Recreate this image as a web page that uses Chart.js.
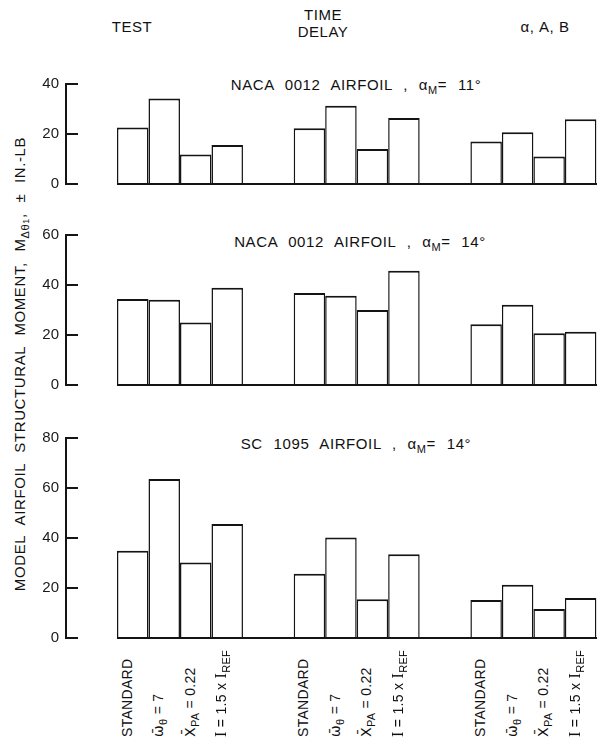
<!DOCTYPE html>
<html>
<head>
<meta charset="utf-8">
<script src="https://cdn.jsdelivr.net/npm/chart.js@4.4.1/dist/chart.umd.min.js"></script>
<style>
  html, body { margin: 0; padding: 0; background: #fff; overflow: hidden; }
  body { width: 597px; height: 741px; position: relative; font-family: "Liberation Sans", Arial, sans-serif; color: #111; }
  .abs { position: absolute; white-space: nowrap; }
  canvas { position: absolute; left: 0; }
  .hdr { font-size: 15px; letter-spacing: 0.5px; transform: translate(-50%, -50%); text-align: center; line-height: 17px; }
  .ttl { font-size: 15px; letter-spacing: 0.6px; word-spacing: 6px; transform: translate(-50%, -50%); }
  .sub { font-size: 11px; position: relative; top: 4px; }
  .ytitle { font-size: 15px; letter-spacing: 0.6px; word-spacing: 6px; transform: translate(-50%, -50%) rotate(-90deg); line-height: 18px; }
  .xlab { font-size: 14px; line-height: 16px; transform-origin: 0 0; transform: rotate(-90deg); letter-spacing: 0.3px; }
  .serifI { font-family: "Liberation Serif", "DejaVu Serif", serif; font-size: 16px; }
  .ov { font-family: "DejaVu Sans", sans-serif; }
</style>
</head>
<body>
<div class="abs hdr" style="left:132px; top:26px;">TEST</div>
<div class="abs hdr" style="left:323px; top:23px;">TIME<br>DELAY</div>
<div class="abs hdr" style="left:545px; top:26px;">α, A, B</div>

<div class="abs ttl" style="left:356px; top:84px;">NACA 0012 AIRFOIL , α<span class="sub">M</span>= 11°</div>
<div class="abs ttl" style="left:360px; top:241px;">NACA 0012 AIRFOIL , α<span class="sub">M</span>= 14°</div>
<div class="abs ttl" style="left:356px; top:443px;">SC 1095 AIRFOIL , α<span class="sub">M</span>= 14°</div>

<div class="abs ytitle" style="left:21px; top:364px;">MODEL AIRFOIL STRUCTURAL MOMENT, M<span class="sub">Δθ<span style="font-size:9px">1</span></span>, ± IN.-LB</div>

<canvas id="c1" width="597" height="124" style="top:72px"></canvas>
<canvas id="c2" width="597" height="174" style="top:223px"></canvas>
<canvas id="c3" width="597" height="224" style="top:426px"></canvas>

<script>
// Groups (x categories) and conditions (bars within a group)
const groupNames = ['TEST', 'TIME DELAY', 'α, A, B'];
const conditionLabels = [
  'STANDARD',
  '<span class="ov">ω\u0304</span><span class="sub">θ</span> = 7',
  '<span class="ov">X\u0304</span><span class="sub">PA</span> = 0.22',
  '<span class="serifI">I</span> = 1.5 x <span class="serifI">I</span><span class="sub">REF</span>'
];

// Panel 1: NACA 0012 airfoil, alpha_M = 11 deg  (values per group: TEST, TIME DELAY, α,A,B)
const naca11Standard = [22.6, 22.3, 17.0];
const naca11Omega    = [34.2, 31.3, 20.7];
const naca11Xpa      = [11.8, 14.0, 11.0];
const naca11Inertia  = [15.6, 26.4, 25.9];

// Panel 2: NACA 0012 airfoil, alpha_M = 14 deg
const naca14Standard = [34.4, 36.8, 24.3];
const naca14Omega    = [34.1, 35.7, 32.1];
const naca14Xpa      = [25.0, 30.0, 20.7];
const naca14Inertia  = [38.9, 45.7, 21.3];

// Panel 3: SC 1095 airfoil, alpha_M = 14 deg
const sc14Standard = [34.9, 25.7, 15.2];
const sc14Omega    = [63.6, 40.2, 21.3];
const sc14Xpa      = [30.2, 15.5, 11.6];
const sc14Inertia  = [45.6, 33.5, 16.0];

// Y tick labels per panel
const panel1Ticks = [0, 20, 40];
const panel2Ticks = [0, 20, 40, 60];
const panel3Ticks = [0, 20, 40, 60, 80];

const INK = '#141414';

const baselinePlugin = {
  id: 'baseline',
  afterDatasetsDraw(chart) {
    const ctx = chart.ctx;
    const y = chart.scales.y.getPixelForValue(0);
    const first = chart.getDatasetMeta(0).data[0].getProps(['x', 'width'], true);
    const left = first.x - first.width / 2;
    ctx.save();
    ctx.strokeStyle = INK;
    ctx.lineWidth = 2;
    ctx.beginPath();
    ctx.moveTo(left, y);
    ctx.lineTo(chart.chartArea.right, y);
    ctx.stroke();
    ctx.restore();
  }
};

function makeChart(id, series, ticks) {
  const datasets = series.map((vals) => ({
    data: vals.map((v, i) => ({ x: i, y: v })),
    backgroundColor: '#ffffff',
    borderColor: INK,
    borderWidth: { top: 2, left: 1.5, right: 1.5, bottom: 0 },
    borderSkipped: 'start',
    barPercentage: 1.0,
    categoryPercentage: 0.713,
    clip: false
  }));
  return new Chart(document.getElementById(id), {
    type: 'bar',
    data: { datasets },
    options: {
      responsive: false,
      animation: false,
      events: [],
      layout: { padding: { top: 12, bottom: 12, left: 0, right: 0 } },
      plugins: { legend: { display: false }, tooltip: { enabled: false }, title: { display: false } },
      scales: {
        x: {
          type: 'linear',
          display: false,
          offset: false,
          min: -0.645,
          max: 2.36,
          ticks: { stepSize: 1, includeBounds: false }
        },
        y: {
          min: ticks[0],
          max: ticks[ticks.length - 1],
          afterBuildTicks: (scale) => { scale.ticks = ticks.map(v => ({ value: v })); },
          afterFit: (scale) => { scale.width = 66; scale.paddingTop = 10; scale.paddingBottom = 10; },
          border: { display: true, color: INK, width: 2 },
          grid: { display: true, drawOnChartArea: false, drawTicks: true, tickLength: -12, color: INK, lineWidth: 2 },
          ticks: {
            padding: 19,
            color: '#1a1a1a',
            font: { family: '"Liberation Sans", Arial, sans-serif', size: 15 }
          }
        }
      }
    },
    plugins: [baselinePlugin]
  });
}

makeChart('c1', [naca11Standard, naca11Omega, naca11Xpa, naca11Inertia], panel1Ticks);
makeChart('c2', [naca14Standard, naca14Omega, naca14Xpa, naca14Inertia], panel2Ticks);
const chart3 = makeChart('c3', [sc14Standard, sc14Omega, sc14Xpa, sc14Inertia], panel3Ticks);

// Rotated condition labels under each bar of the bottom panel, placed from the bar elements
for (let d = 0; d < conditionLabels.length; d++) {
  const meta = chart3.getDatasetMeta(d);
  for (let g = 0; g < groupNames.length; g++) {
    const el = meta.data[g].getProps(['x'], true);
    const div = document.createElement('div');
    div.className = 'abs xlab';
    div.innerHTML = conditionLabels[d];
    div.style.left = (el.x - 14) + 'px';
    div.style.top = '737px';
    document.body.appendChild(div);
  }
}
</script>
</body>
</html>
